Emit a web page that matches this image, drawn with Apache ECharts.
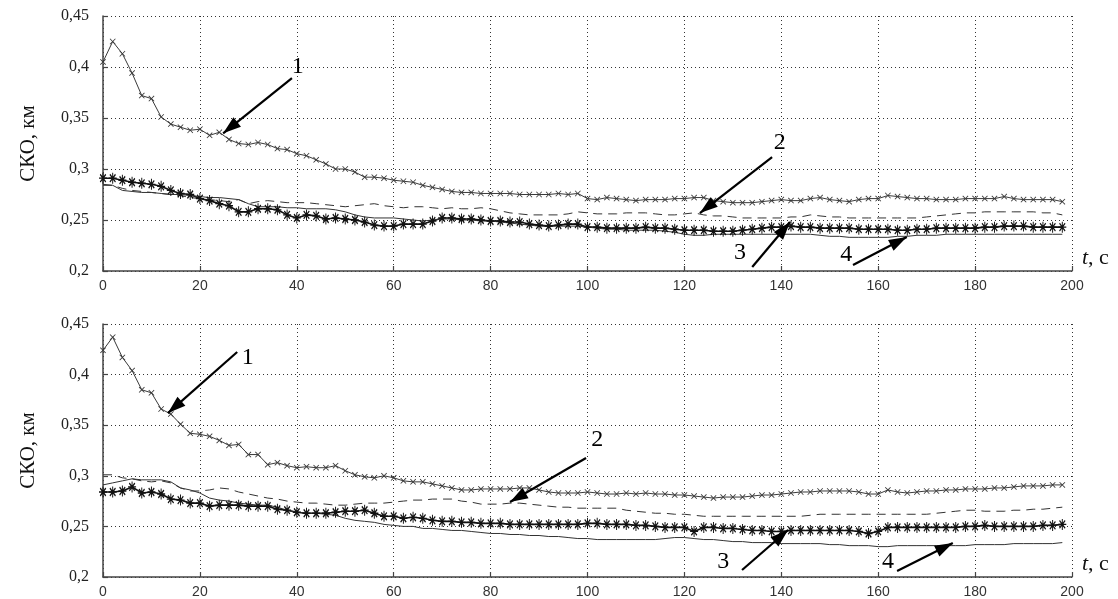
<!DOCTYPE html>
<html>
<head>
<meta charset="utf-8">
<script src="https://cdn.jsdelivr.net/npm/echarts@6/dist/echarts.min.js"></script>
<style>
html,body{margin:0;padding:0;background:#fff;}
#chart{width:1118px;height:599px;}
</style>
</head>
<body>
<div id="chart"></div>
<script>
// ---------- DATA ----------
const times = [0,2,4,6,8,10,12,14,16,18,20,22,24,26,28,30,32,34,36,38,40,42,44,46,48,50,52,54,56,58,60,62,64,66,68,70,72,74,76,78,80,82,84,86,88,90,92,94,96,98,100,102,104,106,108,110,112,114,116,118,120,122,124,126,128,130,132,134,136,138,140,142,144,146,148,150,152,154,156,158,160,162,164,166,168,170,172,174,176,178,180,182,184,186,188,190,192,194,196,198];

const xTickLabels = ['0','20','40','60','80','100','120','140','160','180','200'];
const yTickLabels = ['0,2','0,25','0,3','0,35','0,4','0,45'];
const yAxisTitle = 'СКО, км';

// Top panel
const top1 = [.405,.425,.413,.394,.372,.369,.351,.344,.341,.338,.339,.333,.336,.329,.325,.324,.326,.324,.320,.319,.315,.313,.309,.305,.300,.300,.297,.292,.292,.291,.289,.288,.287,.284,.282,.280,.278,.277,.277,.276,.276,.276,.276,.275,.275,.275,.275,.276,.275,.276,.271,.270,.272,.271,.270,.269,.270,.270,.270,.271,.271,.272,.272,.269,.268,.267,.267,.267,.268,.269,.270,.269,.269,.271,.272,.270,.269,.268,.270,.271,.271,.274,.273,.272,.271,.271,.270,.270,.270,.271,.271,.271,.271,.273,.271,.270,.270,.270,.270,.268];
const top2 = [.285,.284,.281,.279,.278,.277,.276,.275,.274,.272,.271,.270,.269,.268,.270,.266,.268,.269,.268,.267,.267,.267,.266,.265,.264,.263,.264,.265,.266,.264,.263,.262,.263,.263,.262,.261,.262,.261,.261,.262,.261,.259,.257,.256,.255,.255,.255,.255,.256,.258,.257,.256,.256,.256,.257,.257,.257,.256,.255,.255,.256,.257,.255,.254,.254,.253,.252,.252,.252,.252,.252,.253,.253,.255,.254,.253,.253,.252,.252,.252,.252,.252,.252,.252,.252,.253,.254,.255,.256,.257,.257,.258,.258,.258,.258,.258,.258,.257,.257,.255];
const top3 = [.291,.291,.289,.287,.286,.285,.283,.279,.276,.275,.271,.269,.266,.264,.258,.258,.261,.261,.260,.255,.252,.255,.254,.251,.252,.251,.250,.248,.245,.244,.244,.246,.246,.246,.249,.252,.252,.251,.251,.250,.249,.249,.248,.248,.246,.245,.244,.245,.246,.246,.243,.243,.242,.242,.242,.242,.243,.242,.242,.241,.240,.240,.240,.239,.239,.239,.240,.241,.242,.243,.243,.244,.243,.243,.242,.242,.242,.242,.241,.241,.241,.241,.240,.240,.241,.241,.242,.242,.242,.242,.242,.243,.243,.244,.244,.244,.243,.243,.243,.243];
const top4 = [.284,.284,.279,.278,.277,.277,.276,.275,.275,.274,.273,.272,.272,.271,.270,.266,.263,.263,.263,.262,.262,.261,.261,.261,.260,.258,.255,.253,.252,.252,.252,.251,.250,.249,.250,.251,.251,.250,.250,.249,.249,.248,.247,.246,.245,.244,.244,.244,.244,.244,.243,.242,.241,.241,.240,.240,.240,.240,.239,.238,.236,.235,.235,.236,.236,.236,.236,.236,.236,.236,.236,.236,.236,.236,.235,.234,.234,.233,.233,.233,.233,.233,.234,.234,.235,.235,.235,.236,.236,.236,.236,.236,.236,.236,.236,.236,.236,.236,.236,.236];

// Bottom panel
const bot1 = [.424,.437,.417,.404,.385,.382,.366,.361,.351,.342,.341,.339,.335,.330,.331,.321,.321,.311,.313,.310,.308,.309,.308,.308,.310,.305,.301,.299,.298,.300,.298,.295,.294,.294,.292,.290,.288,.286,.286,.287,.287,.287,.287,.288,.288,.286,.284,.283,.283,.283,.284,.283,.282,.282,.283,.282,.283,.282,.282,.281,.281,.280,.279,.278,.279,.279,.279,.280,.281,.281,.282,.283,.284,.284,.285,.285,.285,.285,.284,.282,.282,.286,.284,.283,.284,.285,.285,.286,.286,.287,.287,.287,.288,.288,.289,.290,.290,.290,.291,.291];
const bot2 = [.301,.301,.298,.297,.295,.294,.295,.293,.288,.285,.285,.286,.288,.287,.284,.282,.280,.278,.277,.275,.274,.273,.273,.272,.271,.271,.272,.273,.273,.273,.274,.275,.276,.276,.277,.277,.277,.275,.274,.272,.272,.272,.273,.273,.272,.271,.270,.269,.269,.268,.268,.268,.268,.268,.266,.265,.264,.263,.263,.262,.262,.261,.260,.260,.260,.260,.260,.260,.260,.260,.260,.260,.260,.261,.262,.262,.262,.262,.262,.262,.262,.262,.262,.262,.262,.262,.263,.264,.265,.266,.266,.265,.265,.265,.266,.266,.267,.267,.268,.269];
const bot3 = [.284,.284,.285,.289,.283,.284,.282,.277,.276,.273,.273,.270,.271,.271,.271,.270,.270,.270,.267,.266,.264,.263,.263,.263,.264,.265,.265,.266,.263,.260,.260,.258,.259,.258,.256,.255,.255,.254,.254,.253,.253,.253,.252,.252,.252,.252,.252,.252,.252,.252,.253,.253,.252,.252,.252,.251,.251,.250,.249,.249,.249,.245,.249,.249,.248,.248,.247,.246,.246,.245,.245,.246,.246,.246,.246,.246,.246,.246,.245,.243,.245,.249,.249,.249,.249,.249,.249,.249,.249,.250,.250,.251,.250,.250,.250,.250,.250,.251,.251,.252];
const bot4 = [.291,.293,.295,.297,.296,.296,.296,.294,.288,.286,.283,.278,.276,.275,.273,.272,.271,.271,.269,.266,.264,.263,.263,.262,.261,.258,.256,.255,.254,.252,.251,.250,.250,.248,.248,.247,.246,.246,.245,.244,.243,.243,.242,.242,.241,.241,.240,.240,.239,.238,.238,.237,.237,.237,.237,.237,.237,.237,.238,.239,.239,.238,.237,.237,.236,.235,.235,.234,.234,.234,.233,.233,.233,.233,.233,.232,.232,.231,.231,.231,.230,.230,.231,.231,.231,.231,.231,.231,.231,.231,.232,.232,.232,.232,.233,.233,.233,.233,.233,.234];

// Annotation arrows: [label, labelX, labelY, tailX, tailY, headX, headY] (data units)
const topArrows = [
  ['1', 40.2, 0.400, 39.0, 0.389, 24.8, 0.335],
  ['2', 139.7, 0.3255, 138.1, 0.3117, 123.2, 0.2568],
  ['3', 131.5, 0.2176, 134.0, 0.2039, 141.8, 0.2480],
  ['4', 153.4, 0.2157, 154.8, 0.2059, 165.9, 0.2333]
];
const botArrows = [
  ['1', 29.9, 0.4164, 27.7, 0.4223, 13.4, 0.3620],
  ['2', 102.0, 0.3354, 99.7, 0.3176, 84.0, 0.2741],
  ['3', 128.0, 0.2148, 131.9, 0.2069, 141.4, 0.2464],
  ['4', 162.0, 0.2148, 163.9, 0.2059, 175.4, 0.2336]
];

// ---------- CHART ----------
const SERIF = '"Liberation Serif","DejaVu Serif",serif';
const SANS = '"Liberation Sans","DejaVu Sans",sans-serif';
const XMARK = 'path://M0,1L1,0L5,4L9,0L10,1L6,5L10,9L9,10L5,6L1,10L0,9L4,5Z';
const STAR = 'path://M4.4,0H5.6V10H4.4Z M0,4.4H10V5.6H0Z M3.6,3.6H6.4V6.4H3.6Z M1,2L2,1L9,8L8,9Z M8,1L9,2L2,9L1,8Z';
// arrow head whose tip sits at the centre of its box (degenerate subpath extends the box)
const HEAD = 'path://M5,-18L5,-18Z M5,0L10,18L0,18Z';

function pairs(vals){ return times.map((t,i)=>[t, vals[i]]); }

function xAxis(gi){
  return {
    type:'value', gridIndex:gi, min:0, max:200, interval:20,
    name: '{i|t}, с', nameLocation:'end', nameGap:10,
    nameTextStyle:{ fontFamily:SERIF, fontSize:22, color:'#111', padding:[0,0,26,0],
      rich:{ i:{ fontFamily:SERIF, fontSize:22, fontStyle:'italic', color:'#111' } } },
    axisLine:{ show:true, onZero:false, lineStyle:{ color:'#444', width:1.5 } },
    axisTick:{ show:true, inside:true, length:5, lineStyle:{ color:'#444', width:1.2 } },
    axisLabel:{ margin:8, fontFamily:SANS, fontSize:14, color:'#333',
      formatter:(v)=> xTickLabels[Math.round(v/20)] },
    splitLine:{ show:true, lineStyle:{ color:'#333', width:1, type:[1,3] } }
  };
}
function yAxis(gi){
  return {
    type:'value', gridIndex:gi, min:0.2, max:0.45, interval:0.05,
    name: yAxisTitle, nameLocation:'middle', nameGap:64, nameRotate:90,
    nameTextStyle:{ fontFamily:SERIF, fontSize:21, color:'#111' },
    axisLine:{ show:true, onZero:false, lineStyle:{ color:'#444', width:1.5 } },
    axisTick:{ show:true, inside:true, length:5, lineStyle:{ color:'#444', width:1.2 } },
    axisLabel:{ margin:14, fontFamily:SERIF, fontSize:16, color:'#222',
      formatter:(v)=> yTickLabels[Math.round((v-0.2)/0.05)] },
    splitLine:{ show:true, lineStyle:{ color:'#333', width:1, type:[1,3] } }
  };
}

function makeSeries(gi, s1, s2, s3, s4, arrows){
  const base = { type:'line', xAxisIndex:gi, yAxisIndex:gi, animation:false, silent:true, z:3 };
  return [
    Object.assign({}, base, {
      name:'1', data:pairs(s1), symbol:XMARK, symbolSize:6, showSymbol:true, showAllSymbol:true,
      lineStyle:{ color:'#3a3a3a', width:1 }, itemStyle:{ color:'#3a3a3a' },
      markLine:{
        silent:true, animation:false, symbol:['none', HEAD], symbolSize:[12,36],
        lineStyle:{ color:'#000', width:2.2, type:'solid' }, label:{ show:false },
        emphasis:{ disabled:true },
        data: arrows.map(a=>[{ coord:[a[3],a[4]] }, { coord:[a[5],a[6]] }])
      },
      markPoint:{
        silent:true, animation:false, symbol:'circle', symbolSize:0,
        label:{ show:true, position:'inside', formatter:'{b}', fontFamily:SERIF, fontSize:24, color:'#000' },
        itemStyle:{ color:'transparent' },
        data: arrows.map(a=>({ name:a[0], coord:[a[1],a[2]] }))
      }
    }),
    Object.assign({}, base, {
      name:'2', data:pairs(s2), showSymbol:false, symbol:'none',
      lineStyle:{ color:'#333', width:1, type:[9,6] }
    }),
    Object.assign({}, base, {
      name:'3', data:pairs(s3), symbol:STAR, symbolSize:[8,11], showSymbol:true, showAllSymbol:true,
      lineStyle:{ color:'#111', width:1.6 }, itemStyle:{ color:'#111' }
    }),
    Object.assign({}, base, {
      name:'4', data:pairs(s4), showSymbol:false, symbol:'none',
      lineStyle:{ color:'#333', width:1 }
    })
  ];
}

const chart = echarts.init(document.getElementById('chart'), null, { renderer:'canvas' });
chart.setOption({
  backgroundColor:'#fff',
  animation:false,
  grid:[
    { left:103, top:16, width:969, height:255, containLabel:false, outerBoundsMode:'none' },
    { left:103, top:324, width:969, height:253, containLabel:false, outerBoundsMode:'none' }
  ],
  xAxis:[ xAxis(0), xAxis(1) ],
  yAxis:[ yAxis(0), yAxis(1) ],
  series:[].concat(
    makeSeries(0, top1, top2, top3, top4, topArrows),
    makeSeries(1, bot1, bot2, bot3, bot4, botArrows)
  )
});
</script>
</body>
</html>
